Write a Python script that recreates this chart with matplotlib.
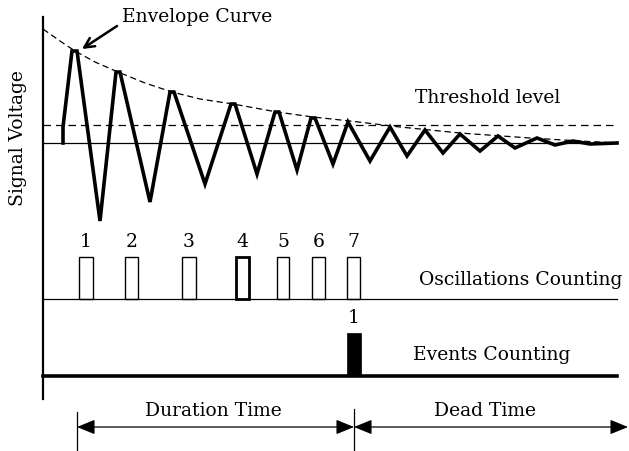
import matplotlib.pyplot as plt
from matplotlib.patches import Rectangle

# --- data (diagram coordinates) ---
signal_x = [63, 63, 72, 77, 100, 116, 120, 150, 170, 174, 205, 231, 235, 257, 275, 279,
            297, 311, 315, 333, 348, 370, 390, 407, 425, 443, 460, 480, 498, 515, 537,
            555, 573, 590, 617]
signal_y = [144, 128, 52, 52, 222, 73, 73, 203, 93, 93, 185, 105, 105, 175, 113, 113,
            171, 119, 119, 165, 123, 162, 128, 157, 131, 154, 135, 152, 137, 149, 139,
            146, 142, 145, 144]
envelope_x = [43, 60, 75, 95, 118, 145, 172, 200, 233, 277, 313, 350, 400, 460, 530, 580, 617]
envelope_y = [30, 42, 52, 63, 73, 84, 93, 100, 105, 113, 118, 122, 128, 134, 139, 142, 144]
baseline_y = 144
threshold_y = 126

osc_labels = ["1", "2", "3", "4", "5", "6", "7"]
osc_left = [79, 125, 182, 236, 277, 312, 347]
osc_right = [93, 138, 196, 249, 289, 325, 360]
osc_base = 300
osc_top = 258

event_labels = ["1"]
event_left = [347]
event_right = [361]
event_base = 377
event_top = 334

duration_start, duration_end, dead_end = 77, 354, 628

fig = plt.figure(figsize=(6.29, 4.52), dpi=100)
ax = fig.add_axes([0, 0, 1, 1])
ax.set_xlim(0, 629)
ax.set_ylim(452, 0)
ax.axis("off")

font = dict(family="DejaVu Serif", color="black", fontsize=13.5)

# vertical axis
ax.plot([43, 43], [18, 400], color="black", lw=1.6)

# baseline and threshold
ax.plot([43, 617], [baseline_y, baseline_y], color="black", lw=0.9)
ax.plot([43, 617], [threshold_y, threshold_y], color="black", lw=0.9, dashes=(6, 4))

# envelope
ax.plot(envelope_x, envelope_y, color="black", lw=0.9, dashes=(5, 3))

# signal
ax.plot(signal_x, signal_y, color="black", lw=2.6, solid_joinstyle="miter")

# texts
ax.text(122, 17, "Envelope Curve", ha="left", va="center", **font)
ax.annotate("", xy=(82, 50), xytext=(117, 27),
            arrowprops=dict(arrowstyle="->,head_length=0.7,head_width=0.35", lw=1.8,
                            color="black", shrinkA=0, shrinkB=0))
ax.text(415, 98, "Threshold level", ha="left", va="center", **font)
ax.text(18, 138, "Signal Voltage", rotation=90, ha="center", va="center", **font)

# oscillation counting
ax.plot([43, 617], [osc_base, osc_base], color="black", lw=0.9)
for lab, l, r in zip(osc_labels, osc_left, osc_right):
    lw = 2.0 if lab == "4" else 1.0
    ax.add_patch(Rectangle((l, osc_top), r - l, osc_base - osc_top, fill=False,
                           ec="black", lw=lw))
    ax.text((l + r) / 2, 242, lab, ha="center", va="center", **font)
ax.text(419, 280, "Oscillations Counting", ha="left", va="center", **font)

# events counting
ax.plot([43, 617], [event_base, event_base], color="black", lw=2.6)
for lab, l, r in zip(event_labels, event_left, event_right):
    ax.add_patch(Rectangle((l, event_top), r - l, event_base - event_top, fc="black",
                           ec="black", lw=0.5))
    ax.text((l + r) / 2, 318, lab, ha="center", va="center", **font)
ax.text(413, 355, "Events Counting", ha="left", va="center", **font)

# duration / dead time
ax.plot([duration_start, duration_start], [413, 452], color="black", lw=0.9)
ax.plot([duration_end, duration_end], [410, 452], color="black", lw=0.9)
arrow = dict(arrowstyle="<|-|>,head_length=1.1,head_width=0.45", lw=0.9, color="black",
             shrinkA=0, shrinkB=0)
ax.annotate("", xy=(duration_start, 428), xytext=(duration_end, 428), arrowprops=arrow)
ax.annotate("", xy=(duration_end, 428), xytext=(dead_end, 428), arrowprops=arrow)
ax.text((duration_start + duration_end) / 2 - 2, 411, "Duration Time",
        ha="center", va="center", **font)
ax.text(485, 411, "Dead Time", ha="center", va="center", **font)

fig.savefig("out.png", dpi=100)
